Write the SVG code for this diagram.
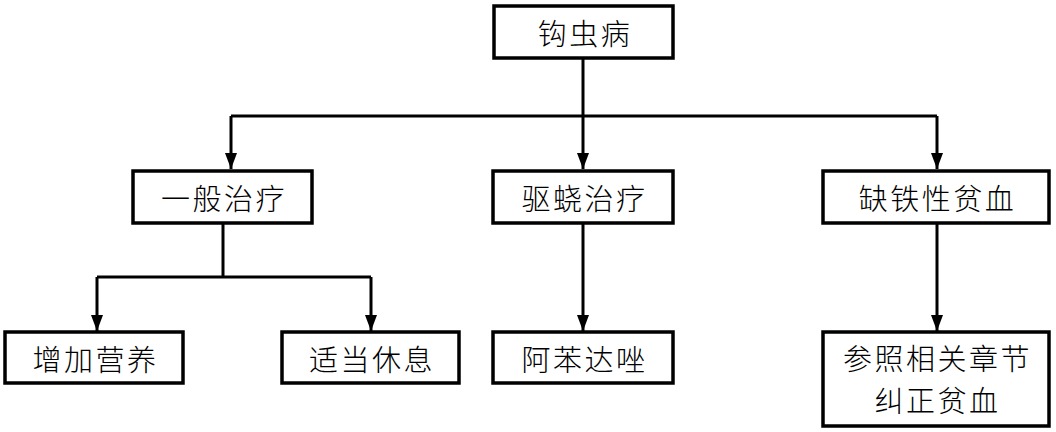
<svg xmlns="http://www.w3.org/2000/svg" width="1056" height="432" viewBox="0 0 1056 432">
<style>
.box{fill:#fff;stroke:#000;stroke-width:3.5}
.t{font-family:"Noto Sans CJK SC","Noto Sans",sans-serif;font-size:29px;font-weight:300;letter-spacing:2.5px;fill:#000;text-anchor:middle;dominant-baseline:central}
.ln{fill:none;stroke:#000;stroke-width:3}
</style>
<defs>
<marker id="ah" viewBox="0 0 16 12" refX="16" refY="6" markerWidth="16" markerHeight="12" markerUnits="userSpaceOnUse" orient="auto">
<path d="M0,0 L16,6 L0,12 Z" fill="#000"/>
</marker>
</defs>
<g id="connectors">
<path class="ln" d="M583,58 V116"/>
<path class="ln" d="M231,116 H937"/>
<path class="ln" d="M231,116 V169" marker-end="url(#ah)"/>
<path class="ln" d="M583,116 V169" marker-end="url(#ah)"/>
<path class="ln" d="M937,116 V169" marker-end="url(#ah)"/>
<path class="ln" d="M223,223 V277"/>
<path class="ln" d="M97,277 H371"/>
<path class="ln" d="M97,277 V331" marker-end="url(#ah)"/>
<path class="ln" d="M371,277 V331" marker-end="url(#ah)"/>
<path class="ln" d="M583,223 V331" marker-end="url(#ah)"/>
<path class="ln" d="M937,223 V331" marker-end="url(#ah)"/>
</g>
<g id="n_root"><rect class="box" x="494" y="6" width="179" height="52"/><text class="t" x="585" y="32">钩虫病</text></g>
<g id="n_general"><rect class="box" x="133" y="171" width="179" height="52"/><text class="t" x="224" y="197">一般治疗</text></g>
<g id="n_deworm"><rect class="box" x="493" y="171" width="180" height="52"/><text class="t" x="584.5" y="197">驱蛲治疗</text></g>
<g id="n_anemia"><rect class="box" x="823" y="171" width="226" height="52"/><text class="t" x="937.5" y="197">缺铁性贫血</text></g>
<g id="n_nutrition"><rect class="box" x="5" y="332" width="178" height="51"/><text class="t" x="95.5" y="357.5">增加营养</text></g>
<g id="n_rest"><rect class="box" x="282" y="332" width="177" height="51"/><text class="t" x="372" y="357.5">适当休息</text></g>
<g id="n_albendazole"><rect class="box" x="493" y="332" width="180" height="51"/><text class="t" x="584.5" y="357.5">阿苯达唑</text></g>
<g id="n_refer"><rect class="box" x="823" y="332" width="226" height="94"/><text class="t" x="937.5" y="357">参照相关章节</text><text class="t" x="937.5" y="399">纠正贫血</text></g>
</svg>
